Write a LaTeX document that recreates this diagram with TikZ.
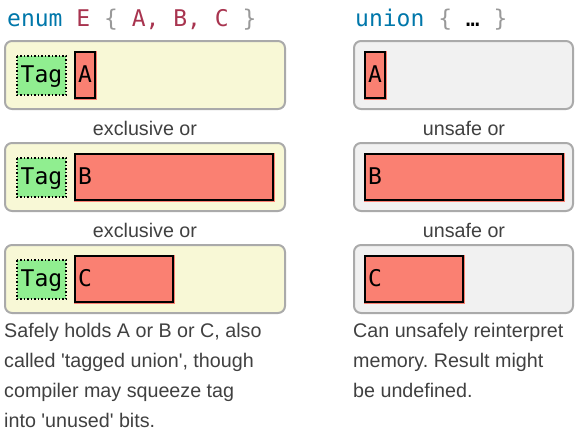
\documentclass[tikz,border=0pt]{standalone}
\usepackage{fontspec}
\setmainfont{Liberation Sans}
\newfontfamily\descfont{Liberation Sans}
\setmonofont{DejaVu Sans Mono}
\frenchspacing
\definecolor{kw}{HTML}{0077AA}
\definecolor{cls}{HTML}{A8344F}
\definecolor{punc}{HTML}{999999}
\definecolor{enumbg}{HTML}{F8F8D6}
\definecolor{unionbg}{HTML}{F1F1F1}
\definecolor{frame}{HTML}{AAAAAA}
\definecolor{tagg}{HTML}{90EE90}
\definecolor{pay}{HTML}{FA8072}
\definecolor{txt}{HTML}{404040}
\tikzset{
  outer/.style={draw=frame, line width=2pt, rounded corners=7pt},
  tagbox/.style={draw=black, fill=tagg, line width=1.5pt, dotted},
  payfill/.style={fill=pay},
  paybox/.style={draw=black, line width=1.8pt},
  mono/.style={font=\ttfamily\fontsize{23}{23}\selectfont, inner sep=0pt},
  lbl/.style={font=\descfont\fontsize{19.7}{30}\selectfont\frenchspacing, text=txt, inner sep=0pt},
}
\begin{document}
\begin{tikzpicture}[x=1pt,y=-1pt]
\useasboundingbox (0,0) rectangle (575,434);
% headers
\node[mono, anchor=base west] (henum) at (7,26) {\textcolor{kw}{enum} \textcolor{cls}{E} \textcolor{punc}{\{} \textcolor{cls}{A,} \textcolor{cls}{B,} \textcolor{cls}{C} \textcolor{punc}{\}}};
\node[mono, anchor=base west] (hunion) at (355,26) {\textcolor{kw}{union} \textcolor{punc}{\{} … \textcolor{punc}{\}}};
% rows
\foreach \i/\w/\l in {0/22/A,1/200/B,2/100/C}{
  \pgfmathsetmacro\t{40+102*\i}
  % enum side
  \draw[outer, fill=enumbg] (5,\t+1) rectangle (285,\t+69);
  \draw[tagbox] (17,\t+16) rectangle (66,\t+55);
  \node[mono, anchor=base] (tag\l) at (41.5,\t+42) {Tag};
  \fill[payfill] (74,\t+11) rectangle (74+\w+1,\t+60);
  \draw[paybox] (75,\t+12) rectangle (74+\w-1,\t+58);
  \node[mono, anchor=base west] (e\l) at (78,\t+42) {\l};
  % union side
  \draw[outer, fill=unionbg] (354,\t+1) rectangle (573,\t+69);
  \fill[payfill] (364,\t+11) rectangle (364+\w+1,\t+60);
  \draw[paybox] (365,\t+12) rectangle (364+\w-1,\t+58);
  \node[mono, anchor=base west] (u\l) at (368,\t+42) {\l};
}
% separators
\node[lbl, anchor=base] (x1) at (145,135) {exclusive or};
\node[lbl, anchor=base] (x2) at (145,237) {exclusive or};
\node[lbl, anchor=base] (u1) at (464,135) {unsafe or};
\node[lbl, anchor=base] (u2) at (464,237) {unsafe or};
% descriptions
\node[lbl, anchor=base west] (d1) at (4,337) {Safely holds A or B or C, also};
\node[lbl, anchor=base west] (d2) at (4,367) {called 'tagged union', though};
\node[lbl, anchor=base west] (d3) at (4,397) {compiler may squeeze tag};
\node[lbl, anchor=base west] (d4) at (4,427) {into 'unused' bits.};
\node[lbl, anchor=base west] (r1) at (353,337) {Can unsafely reinterpret};
\node[lbl, anchor=base west] (r2) at (353,367) {memory. Result might};
\node[lbl, anchor=base west] (r3) at (353,397) {be undefined.};
\end{tikzpicture}
\end{document}
